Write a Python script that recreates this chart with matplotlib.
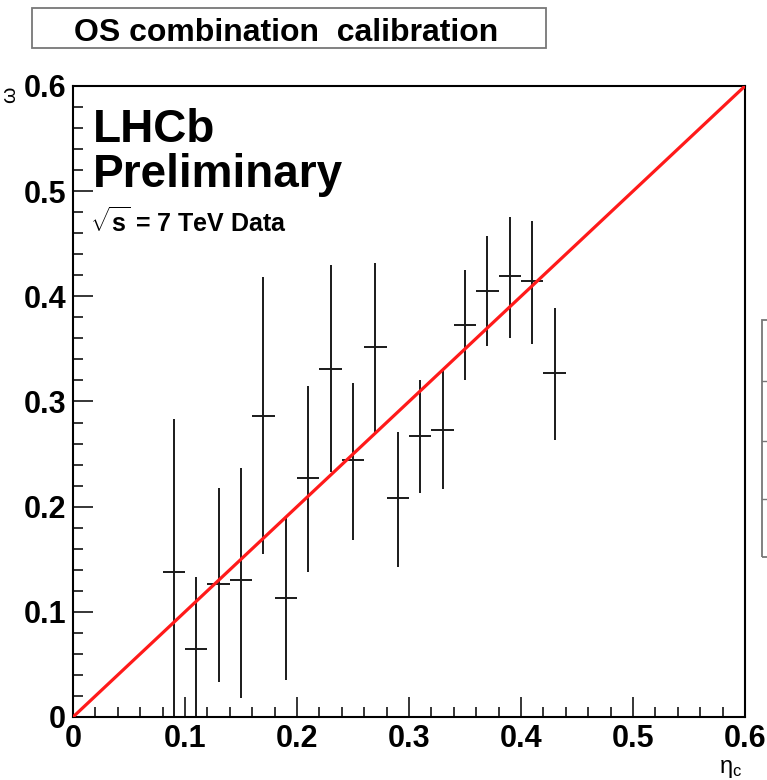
"""OS combination calibration: measured mistag vs predicted mistag (LHCb style)."""

import matplotlib
matplotlib.use("Agg")
import matplotlib.pyplot as plt
from matplotlib.patches import Rectangle
from matplotlib.ticker import MultipleLocator

# bin centres in predicted mistag eta_c (bin width 0.02)
eta_c = [0.09, 0.11, 0.13, 0.15, 0.17, 0.19, 0.21, 0.23, 0.25,
         0.27, 0.29, 0.31, 0.33, 0.35, 0.37, 0.39, 0.41, 0.43]
# measured mistag omega and its error band edges
omega = [0.138, 0.065, 0.126, 0.130, 0.286, 0.113, 0.227, 0.331, 0.244,
         0.352, 0.208, 0.267, 0.273, 0.373, 0.405, 0.419, 0.415, 0.327]
omega_hi = [0.283, 0.133, 0.218, 0.237, 0.418, 0.190, 0.315, 0.430, 0.318,
            0.432, 0.271, 0.320, 0.330, 0.425, 0.457, 0.475, 0.472, 0.389]
omega_lo = [-0.010, -0.005, 0.033, 0.018, 0.155, 0.035, 0.138, 0.233, 0.168,
            0.270, 0.143, 0.213, 0.217, 0.320, 0.353, 0.360, 0.355, 0.263]
half_bin = 0.01

# fitted calibration line (omega = eta_c)
fit_x = [0.0, 0.6]
fit_y = [0.0, 0.6]

plt.rcParams["font.family"] = ["Liberation Sans", "DejaVu Sans"]
plt.rcParams["mathtext.fontset"] = "custom"
plt.rcParams["mathtext.rm"] = "Liberation Sans"
plt.rcParams["mathtext.it"] = "Liberation Sans:italic"
plt.rcParams["mathtext.bf"] = "Liberation Sans:bold"

fig = plt.figure(figsize=(7.67, 7.80), dpi=100)
ax = fig.add_axes([73 / 767, 63 / 780, 672 / 767, 631 / 780])

err_lo = [o - l for o, l in zip(omega, omega_lo)]
err_hi = [h - o for o, h in zip(omega, omega_hi)]
ax.errorbar(eta_c, omega, yerr=[err_lo, err_hi], xerr=half_bin,
            fmt="none", ecolor="#1a1a1a", elinewidth=1.4, capsize=0, zorder=2)
ax.plot(fit_x, fit_y, color="#ff1a1a", lw=2.3, zorder=3, solid_capstyle="butt")

ax.set_xlim(0, 0.6)
ax.set_ylim(0, 0.6)
ax.xaxis.set_major_locator(MultipleLocator(0.1))
ax.xaxis.set_minor_locator(MultipleLocator(0.02))
ax.yaxis.set_major_locator(MultipleLocator(0.1))
ax.yaxis.set_minor_locator(MultipleLocator(0.02))
ax.xaxis.set_major_formatter(lambda v, p: "0" if abs(v) < 1e-9 else f"{v:.1f}")
ax.yaxis.set_major_formatter(lambda v, p: "0" if abs(v) < 1e-9 else f"{v:.1f}")
ax.tick_params(which="both", direction="in", width=1.1, top=False, right=False)
ax.tick_params(which="major", length=14.5, labelsize=22, pad=5)
ax.tick_params(which="minor", length=7.2)
for lab in ax.get_xticklabels() + ax.get_yticklabels():
    lab.set_fontweight("bold")
for sp in ax.spines.values():
    sp.set_linewidth(1.5)

# axis titles, ROOT style at the far ends
fig.text(0.013, 0.878, "ω", rotation=90, fontsize=15, ha="center", va="center")
fig.text(0.952, 0.014, r"$\mathregular{\eta_c}$", fontsize=17, ha="center", va="center")

# LHCb labels
fig.text(93 / 767, 0.818, "LHCb", fontsize=33, fontweight="bold")
fig.text(93 / 767, 0.760, "Preliminary", fontsize=33, fontweight="bold")
fig.text(90 / 767, 0.703, r"$\mathbf{\sqrt{s}}$ = 7 TeV Data", fontsize=18, fontweight="bold")

# title box
fig.patches.append(Rectangle((32 / 767, 1 - 48 / 780), 514 / 767, 40 / 780,
                             transform=fig.transFigure, fill=True, facecolor="white",
                             edgecolor="#777777", lw=1.3))
fig.text(286 / 767, 0.948, "OS combination  calibration", fontsize=23,
         fontweight="bold", ha="center", va="baseline")

# stats box clipped at the right edge
fig.patches.append(Rectangle((762 / 767, 1 - 557 / 780), 40 / 767, 237 / 780,
                             transform=fig.transFigure, fill=False,
                             edgecolor="#777777", lw=1.3))
for ypix in (381, 441, 499):
    fig.add_artist(plt.Line2D([762 / 767, 1.0], [1 - ypix / 780] * 2,
                              transform=fig.transFigure, color="#777777", lw=1.0))

fig.savefig("out.png", dpi=100)
